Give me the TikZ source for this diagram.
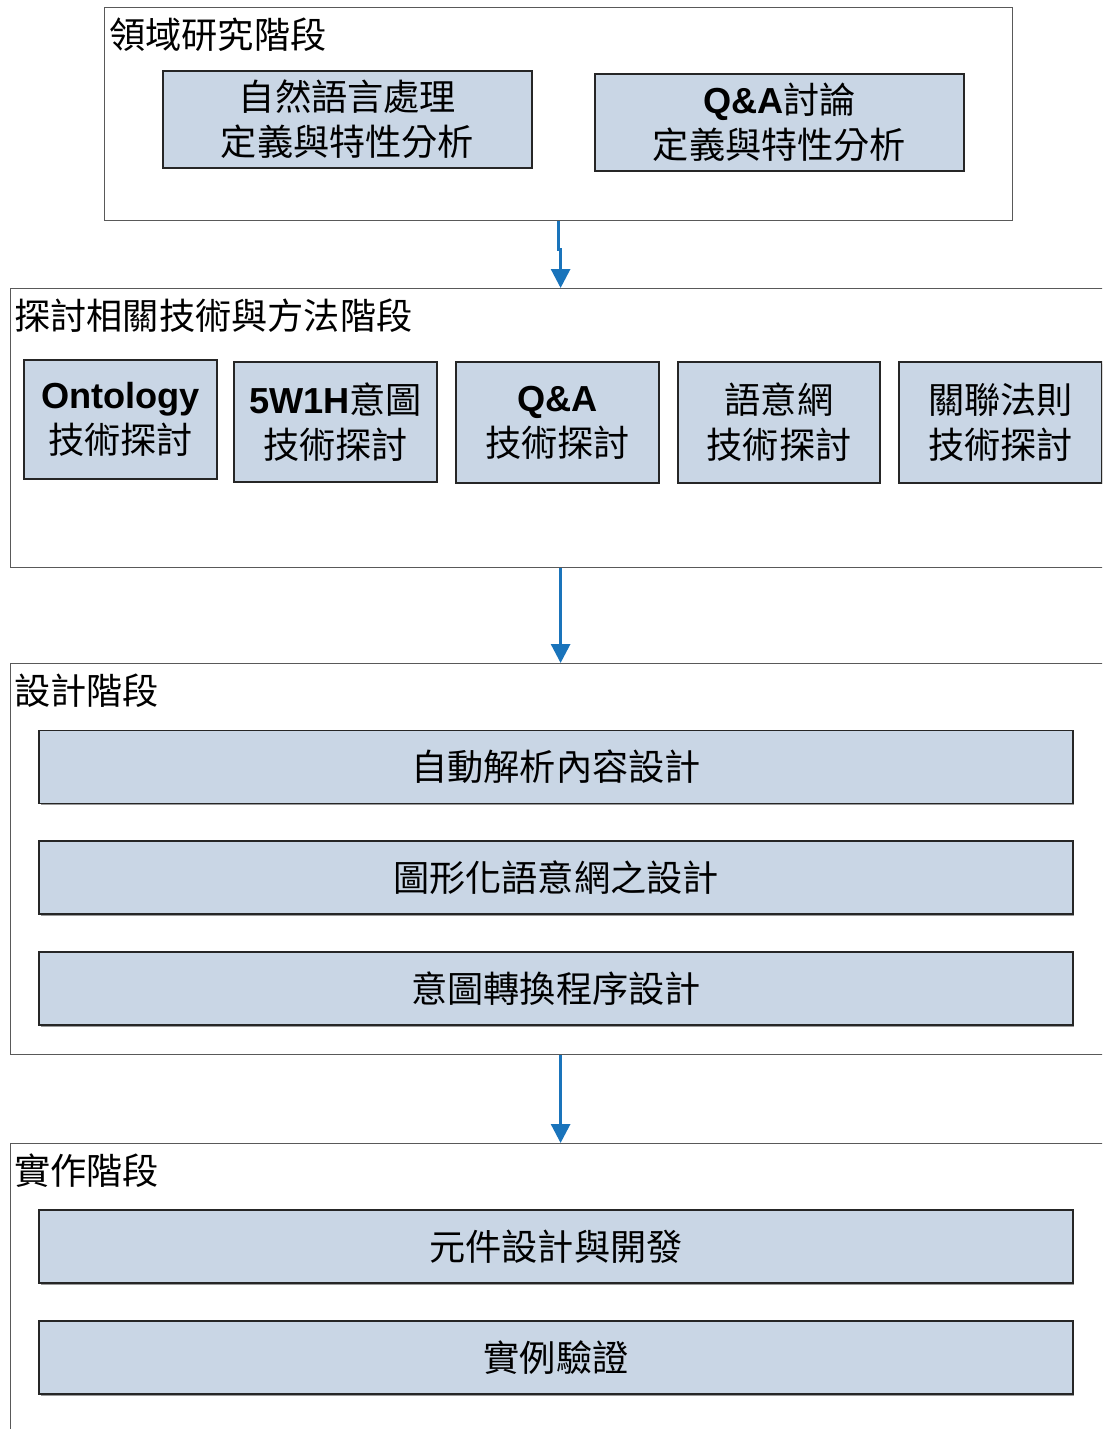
\documentclass[tikz,border=0pt]{standalone}
\usepackage{fontspec}
\setmainfont{Liberation Sans}
\newfontfamily\cjk{Noto Sans CJK TC}
\usetikzlibrary{arrows.meta,shadows}
\definecolor{box blue}{RGB}{201,214,229}
\definecolor{arrow blue}{RGB}{26,116,187}
\newcommand{\en}[1]{{\normalfont\bfseries #1}}

\begin{document}
\begin{tikzpicture}[x=0.02cm, y=-0.02cm,
    font=\cjk\fontsize{20.6}{25.6}\selectfont,
    stagebox/.style={draw=black!65, line width=0.8pt, anchor=north west, inner sep=0pt},
    stagetitle/.style={anchor=west, inner sep=0pt},
    itembox/.style={draw=black!85, line width=0.8pt, fill=box blue, align=center, inner sep=0pt,
        drop shadow={shadow xshift=0.03cm, shadow yshift=-0.03cm, fill=black!40, opacity=1}},
    flow/.style={arrow blue, line width=1.7pt, -{Triangle[width=0.38cm,length=0.38cm]}}]
    \clip (0,0) rectangle (1102,1429);
    \fill[white] (0,0) rectangle (1102,1429);
    % part for the four stages
    \node[stagebox, minimum width=18.16cm, minimum height=4.26cm] (stage1) at (104,7) {};
    \node[stagebox, minimum width=22cm, minimum height=5.58cm] (stage2) at (10,288) {};
    \node[stagebox, minimum width=22cm, minimum height=7.82cm] (stage3) at (10,663) {};
    \node[stagebox, minimum width=22cm, minimum height=8.4cm] (stage4) at (10,1143) {};
    \node[stagetitle] (title1) at (109,35) {領域研究階段};
    \node[stagetitle] (title2) at (14,316) {探討相關技術與方法階段};
    \node[stagetitle] (title3) at (14,691) {設計階段};
    \node[stagetitle] (title4) at (14,1171) {實作階段};
    % part for the domain study
    \node[itembox, minimum width=7.38cm, minimum height=1.94cm] (nlp) at (347.5,119.5)
        {自然語言處理\\定義與特性分析};
    \node[itembox, minimum width=7.38cm, minimum height=1.94cm] (qadef) at (779.5,122.5)
        {\en{Q\&A}討論\\定義與特性分析};
    % part for the techniques
    \node[itembox, minimum width=3.86cm, minimum height=2.38cm] (onto) at (120.5,419.5)
        {\en{Ontology}\\技術探討};
    \node[itembox, minimum width=4.06cm, minimum height=2.4cm] (intent) at (335.5,422)
        {\en{5W1H}意圖\\技術探討};
    \node[itembox, minimum width=4.06cm, minimum height=2.42cm] (qatech) at (557.5,422.5)
        {\en{Q\&A}\\技術探討};
    \node[itembox, minimum width=4.04cm, minimum height=2.42cm] (semweb) at (779,422.5)
        {語意網\\技術探討};
    \node[itembox, minimum width=4.06cm, minimum height=2.42cm] (assoc) at (1000.5,422.5)
        {關聯法則\\技術探討};
    % part for the design
    \node[itembox, minimum width=20.68cm, minimum height=1.46cm] (parse) at (556,767) {自動解析內容設計};
    \node[itembox, minimum width=20.68cm, minimum height=1.46cm] (graph) at (556,877.5) {圖形化語意網之設計};
    \node[itembox, minimum width=20.68cm, minimum height=1.46cm] (convert) at (556,988.5) {意圖轉換程序設計};
    % part for the implementation
    \node[itembox, minimum width=20.68cm, minimum height=1.46cm] (parts) at (556,1246.5) {元件設計與開發};
    \node[itembox, minimum width=20.68cm, minimum height=1.46cm] (verify) at (556,1357.5) {實例驗證};
    % flow between stages
    \draw[flow] (stage1.south) -- ++(0,28) -| (stage2.north);
    \draw[flow] (stage2.south) -- (stage3.north);
    \draw[flow] (stage3.south) -- (stage4.north);
\end{tikzpicture}
\end{document}
